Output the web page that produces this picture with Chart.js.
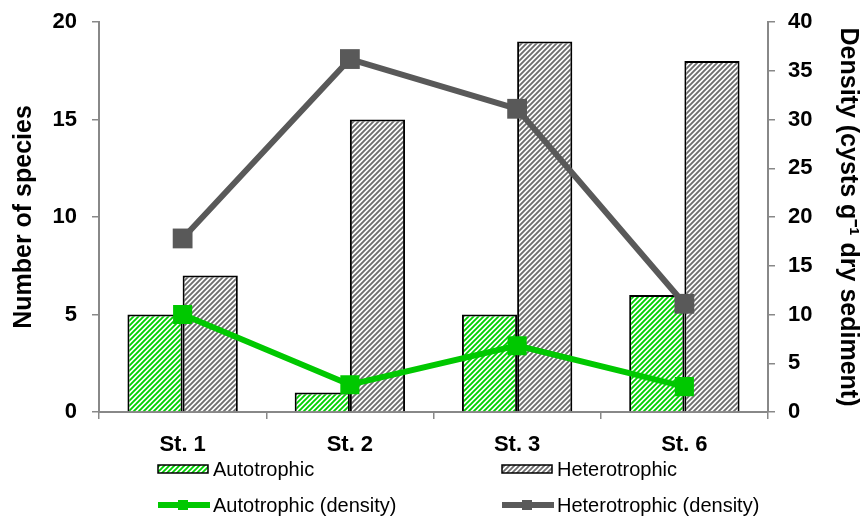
<!DOCTYPE html>
<html><head><meta charset="utf-8">
<script src="https://cdn.jsdelivr.net/npm/chart.js@4/dist/chart.umd.min.js"></script>
<style>html,body{margin:0;padding:0;background:#fff}#wrap{width:867px;height:519px}</style>
</head><body><div id="wrap"><canvas id="c" width="867" height="519"></canvas></div>
<script>
const categories = ['St. 1', 'St. 2', 'St. 3', 'St. 6'];
const autotrophicSpecies = [5, 1, 5, 6];
const heterotrophicSpecies = [7, 15, 19, 18];
const autotrophicDensity = [10, 2.8, 6.8, 2.6];
const heterotrophicDensity = [17.8, 36.2, 31.1, 11.1];
const seriesNames = ['Autotrophic', 'Heterotrophic', 'Autotrophic (density)', 'Heterotrophic (density)'];
const leftTicks = [0, 5, 10, 15, 20];
const rightTicks = [0, 5, 10, 15, 20, 25, 30, 35, 40];

const GREEN = '#00c800', GREY = '#595959';
function hatch(color) {
  const s = 5, cv = document.createElement('canvas');
  cv.width = s; cv.height = s;
  const g = cv.getContext('2d');
  g.fillStyle = '#fff'; g.fillRect(0, 0, s, s);
  g.strokeStyle = color; g.lineWidth = 1.9;
  g.beginPath();
  g.moveTo(-1, s + 1); g.lineTo(s + 1, -1);
  g.moveTo(-1, 1); g.lineTo(1, -1);
  g.moveTo(s - 1, s + 1); g.lineTo(s + 1, s - 1);
  g.stroke();
  return document.createElement('canvas').getContext('2d').createPattern(cv, 'repeat');
}
const greenPat = hatch('#00d000');
const greyPat = hatch('#6e6e6e');

const legendPlugin = {
  id: 'customLegend',
  afterDraw(chart) {
    const ctx = chart.ctx;
    ctx.save();
    ctx.font = '20px "Liberation Sans", Arial, sans-serif';
    ctx.textBaseline = 'middle';
    const cols = [158, 502], rows = [469, 505];
    [[greenPat, 0], [greyPat, 1]].forEach(([p, i]) => {
      const x = cols[i], y = rows[0];
      ctx.fillStyle = p; ctx.fillRect(x, y - 4, 50, 8);
      ctx.strokeStyle = '#000'; ctx.lineWidth = 1.5; ctx.strokeRect(x, y - 4, 50, 8);
      ctx.fillStyle = '#000'; ctx.fillText(seriesNames[i], x + 55, y + 1);
    });
    [[GREEN, 0, 2], [GREY, 1, 3]].forEach(([c, i, n]) => {
      const x = cols[i], y = rows[1];
      ctx.strokeStyle = c; ctx.lineWidth = 6;
      ctx.beginPath(); ctx.moveTo(x, y); ctx.lineTo(x + 52, y); ctx.stroke();
      ctx.fillStyle = c; ctx.fillRect(x + 20, y - 5, 10, 10);
      ctx.fillStyle = '#000'; ctx.fillText(seriesNames[n], x + 55, y + 1);
    });
    ctx.restore();
  }
};

const tickFont = { family: '"Liberation Sans", Arial, sans-serif', size: 22, weight: 'bold' };
const titleFont = { family: '"Liberation Sans", Arial, sans-serif', size: 25, weight: 'bold' };

function fixVertical(s) { s.width = 99; s.paddingTop = 0; s.paddingBottom = 0; }

new Chart(document.getElementById('c'), {
  data: {
    labels: categories,
    datasets: [
      { type: 'line', label: seriesNames[2], data: autotrophicDensity, yAxisID: 'y2', order: 0,
        borderColor: GREEN, backgroundColor: GREEN, borderWidth: 6, pointStyle: 'rect', pointRadius: 13.5, pointHoverRadius: 13.5, pointBorderWidth: 0, tension: 0 },
      { type: 'line', label: seriesNames[3], data: heterotrophicDensity, yAxisID: 'y2', order: 0,
        borderColor: GREY, backgroundColor: GREY, borderWidth: 6, pointStyle: 'rect', pointRadius: 14, pointHoverRadius: 14, pointBorderWidth: 0, tension: 0 },
      { type: 'bar', label: seriesNames[0], data: autotrophicSpecies, yAxisID: 'y', order: 1,
        backgroundColor: greenPat, borderColor: '#000', borderWidth: 2, barPercentage: 1, categoryPercentage: 0.66 },
      { type: 'bar', label: seriesNames[1], data: heterotrophicSpecies, yAxisID: 'y', order: 1,
        backgroundColor: greyPat, borderColor: '#000', borderWidth: 2, barPercentage: 1, categoryPercentage: 0.66 }
    ]
  },
  options: {
    responsive: false, animation: false, devicePixelRatio: 1,
    layout: { padding: { top: 22, left: 0, right: 0, bottom: 0 } },
    plugins: { legend: { display: false }, tooltip: { enabled: false } },
    scales: {
      x: {
        grid: { offset: true, drawOnChartArea: false, color: '#888', tickLength: 7, lineWidth: 1.5 },
        border: { color: '#888', width: 2 },
        ticks: { color: '#000', font: tickFont, padding: 13, maxRotation: 0 },
        afterFit(s) { s.height = 107; s.paddingLeft = 0; s.paddingRight = 0; }
      },
      y: {
        position: 'left', min: 0, max: 20,
        afterBuildTicks(s) { s.ticks = leftTicks.map(v => ({ value: v })); },
        grid: { drawOnChartArea: false, color: '#888', tickLength: 7, lineWidth: 1.5 },
        border: { color: '#888', width: 2 },
        ticks: { color: '#000', font: tickFont, padding: 15 },
        title: { display: true, text: 'Number of species', color: '#000', font: titleFont, padding: { top: 9, bottom: 0 } },
        afterFit: fixVertical
      },
      y2: {
        position: 'right', min: 0, max: 40,
        afterBuildTicks(s) { s.ticks = rightTicks.map(v => ({ value: v })); },
        grid: { drawOnChartArea: false, color: '#888', tickLength: 7, lineWidth: 1.5 },
        border: { color: '#888', width: 2 },
        ticks: { color: '#000', font: tickFont, padding: 13 },
        title: { display: true, text: 'Density (cysts g⁻¹ dry sediment)', color: '#000', font: titleFont, padding: { top: 4, bottom: 0 } },
        afterFit: fixVertical
      }
    }
  },
  plugins: [legendPlugin]
});
</script></body></html>
